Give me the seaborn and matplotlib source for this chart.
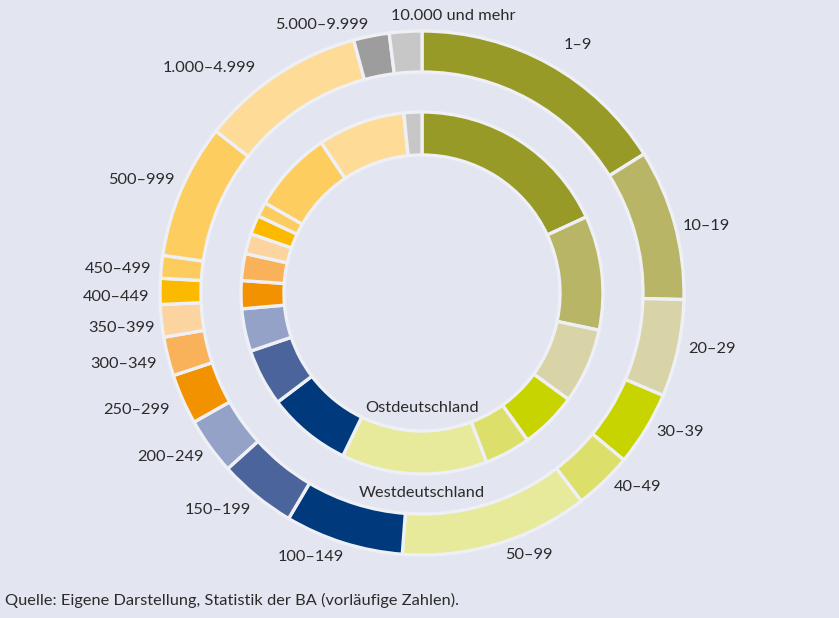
import matplotlib
matplotlib.use("Agg")
import matplotlib.pyplot as plt
import seaborn as sns

# Size classes (number of employees per establishment)
size_classes = ["1–9", "10–19", "20–29", "30–39", "40–49", "50–99",
                "100–149", "150–199", "200–249", "250–299", "300–349",
                "350–399", "400–449", "450–499", "500–999",
                "1.000–4.999", "5.000–9.999", "10.000 und mehr"]

# Share of employees in percent
west_share = [16.1, 9.3, 6.0, 4.6, 3.6, 11.6, 7.3, 4.8, 3.5, 3.1, 2.4,
              2.0, 1.6, 1.4, 8.3, 10.2, 2.2, 2.0]
east_share = [18.1, 10.2, 6.7, 5.1, 4.1, 13.0, 7.5, 5.1, 3.8, 2.5, 2.4,
              1.8, 1.7, 1.3, 7.3, 7.8, 0.0, 1.6]

ring_names = ["Westdeutschland", "Ostdeutschland"]
source_note = "Quelle: Eigene Darstellung, Statistik der BA (vorläufige Zahlen)."

palette = ["#979a26", "#b8b566", "#d8d4a8", "#c8d400", "#dce06a", "#e6ea9a",
           "#003a7d", "#4b649c", "#94a2c8", "#f39200", "#f9b25a", "#fcd4a0",
           "#fbba00", "#fdcc5e", "#fdcd60", "#fedc97", "#9d9d9d", "#c6c7c6"]

bg = "#e3e5f0"
text_color = "#2b2b2b"
fs = 11.8

sns.set_theme(style="white", rc={"figure.facecolor": bg, "axes.facecolor": bg})
plt.rcParams["font.family"] = ["Lato", "DejaVu Sans"]

W, H = 839, 618
fig = plt.figure(figsize=(W / 100, H / 100), dpi=100)
ax = fig.add_axes([0, 0, 1, 1])

# geometry in pixels, converted to data units (outer radius = 1)
R = 262.0
cx, cy = 422.0, 293.0

colors = sns.color_palette(palette)
sep = dict(edgecolor="#eef0f6", linewidth=2.4)

ax.pie(west_share, radius=1.0, startangle=90, counterclock=False,
       colors=colors, wedgeprops=dict(width=41 / R, **sep))
ax.pie(east_share, radius=181 / R, startangle=90, counterclock=False,
       colors=colors, wedgeprops=dict(width=43 / R, **sep))

ax.set_xlim(-cx / R, (W - cx) / R)
ax.set_ylim(-(H - cy) / R, cy / R)
ax.set_aspect("auto")
ax.axis("off")

# label anchors (pixel positions of the text centres)
label_px = [(578, 45), (706, 226), (712, 349), (680, 432), (638, 487),
            (529, 555), (311, 557), (218, 510), (170, 457), (136, 410),
            (124, 364), (122, 328), (116, 297), (118, 269), (141, 180),
            (209, 68), (322, 25), (453, 16)]

for name, (px, py) in zip(size_classes, label_px):
    ax.text((px - cx) / R, (cy - py) / R, name, ha="center", va="center",
            fontsize=fs, color=text_color)

ax.text(0, (cy - 408) / R, ring_names[1], ha="center", va="center",
        fontsize=fs, color=text_color)
ax.text(0, (cy - 493) / R, ring_names[0], ha="center", va="center",
        fontsize=fs, color=text_color)

fig.text(5 / W, 1 - 600 / H, source_note, ha="left", va="center",
         fontsize=fs, color=text_color)

fig.savefig("out.png", dpi=100, facecolor=bg)
